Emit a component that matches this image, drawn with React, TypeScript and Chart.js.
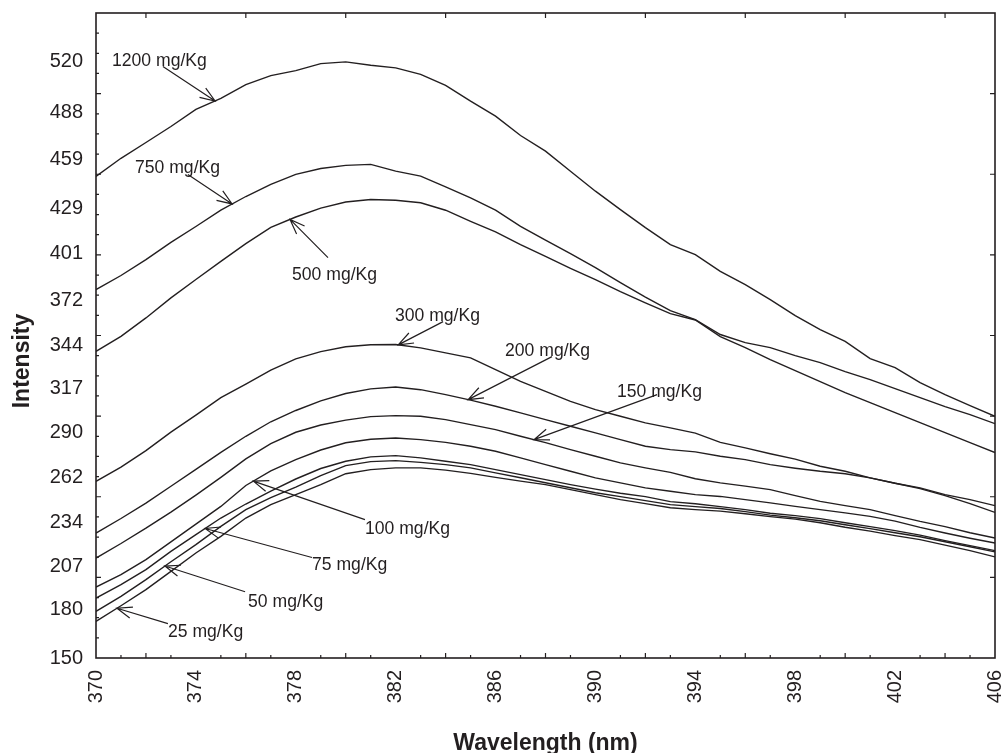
import React, { useEffect, useRef } from 'react';
import { Chart, registerables } from 'chart.js';

Chart.register(...registerables);

// ---------------- data ----------------
const wavelengths = [
  370, 371, 372, 373, 374, 375, 376, 377, 378, 379, 380, 381, 382, 383, 384, 385, 386, 387, 388,
  389, 390, 391, 392, 393, 394, 395, 396, 397, 398, 399, 400, 401, 402, 403, 404, 405, 406,
];
const xTickLabels = [370, 374, 378, 382, 386, 390, 394, 398, 402, 406];
const yTickLabels = [150, 180, 207, 234, 262, 290, 317, 344, 372, 401, 429, 459, 488, 520];

const s1200 = [448.7, 459.9, 469.7, 479.6, 490.2, 497.0, 505.6, 511.2, 514.3, 518.6, 519.7, 517.6, 516.0, 511.9, 505.1, 495.3, 486.0, 474.0, 464.3, 451.9, 439.5, 428.1, 416.9, 406.4, 400.2, 389.8, 381.6, 372.3, 362.3, 353.7, 346.4, 335.7, 330.1, 320.8, 313.3, 306.5, 299.9];
const s750 = [378.5, 387.2, 397.1, 407.7, 417.6, 427.8, 436.2, 443.7, 449.9, 453.6, 455.5, 456.1, 451.9, 448.8, 442.2, 435.4, 427.7, 417.7, 409.1, 400.8, 392.1, 382.8, 373.8, 365.4, 359.9, 350.6, 345.6, 342.5, 337.5, 333.2, 327.6, 322.6, 317.1, 311.5, 305.9, 300.9, 295.3];
const s500 = [340.2, 349.5, 360.9, 373.3, 384.7, 396.0, 407.0, 417.0, 423.5, 429.0, 432.8, 434.3, 433.9, 432.3, 427.7, 420.8, 414.3, 406.4, 399.0, 391.7, 384.7, 377.2, 370.2, 363.6, 359.6, 349.3, 342.5, 335.0, 328.2, 321.4, 314.6, 308.4, 302.2, 296.0, 289.8, 283.6, 277.4];
const s300 = [259.6, 268.4, 278.6, 290.1, 300.6, 311.5, 319.9, 328.5, 335.5, 340.0, 343.0, 344.3, 344.4, 342.3, 339.2, 336.1, 328.8, 321.6, 315.4, 309.2, 304.0, 299.9, 295.8, 292.7, 289.5, 283.7, 280.3, 276.7, 273.3, 268.9, 265.8, 261.7, 258.4, 255.5, 251.3, 248.2, 244.5];
const s200 = [227.5, 236.5, 246.0, 256.5, 267.0, 277.5, 287.5, 296.5, 303.5, 309.5, 314.0, 316.9, 318.1, 316.4, 313.3, 309.9, 306.1, 302.0, 297.8, 293.7, 289.6, 285.4, 281.3, 279.2, 277.8, 275.1, 273.0, 269.9, 267.7, 265.8, 264.3, 261.7, 258.4, 255.0, 250.7, 245.7, 240.3];
const s150 = [212.0, 221.0, 230.5, 240.5, 251.0, 262.0, 273.5, 283.0, 290.0, 294.5, 297.5, 299.7, 300.3, 299.9, 297.8, 294.7, 291.6, 287.5, 283.6, 279.2, 275.1, 271.0, 267.9, 265.1, 261.2, 258.6, 256.6, 254.4, 250.7, 247.1, 244.5, 242.0, 238.3, 234.7, 231.5, 227.7, 224.4];
const s100 = [194.0, 201.7, 211.0, 222.0, 233.0, 244.0, 257.0, 266.0, 273.0, 279.0, 283.5, 285.7, 286.4, 285.4, 283.7, 281.3, 278.2, 274.1, 269.9, 265.8, 261.7, 258.6, 255.5, 253.4, 251.3, 250.2, 248.2, 246.2, 244.0, 242.0, 240.0, 237.8, 234.9, 231.0, 227.5, 224.3, 221.3];
const s75 = [187.2, 195.5, 204.8, 216.1, 226.5, 236.8, 245.5, 253.5, 261.0, 267.5, 272.0, 274.7, 275.5, 274.1, 272.0, 269.9, 266.8, 263.7, 260.6, 257.5, 254.7, 252.2, 250.1, 247.0, 245.7, 243.9, 242.0, 239.8, 238.3, 236.4, 233.9, 231.5, 229.0, 226.2, 222.8, 219.7, 216.6];
const s50 = [178.9, 188.2, 198.6, 209.7, 220.3, 231.6, 242.0, 249.5, 256.0, 263.1, 269.3, 271.8, 272.4, 271.3, 269.9, 267.9, 264.8, 261.8, 258.7, 255.6, 252.5, 250.1, 247.6, 245.1, 243.9, 242.7, 240.8, 238.6, 237.0, 235.1, 232.6, 230.2, 227.7, 225.2, 222.1, 219.0, 215.8];
const s25 = [172.7, 182.4, 192.4, 203.7, 215.1, 225.4, 236.8, 245.1, 251.3, 257.5, 264.3, 266.8, 267.9, 267.9, 266.5, 264.5, 262.0, 259.7, 257.5, 254.4, 251.3, 248.2, 245.7, 243.2, 242.0, 241.1, 239.5, 237.7, 236.1, 233.9, 231.1, 228.7, 225.9, 223.4, 220.0, 216.6, 212.7];

const seriesNames = ['1200 mg/Kg', '750 mg/Kg', '500 mg/Kg', '300 mg/Kg', '200 mg/Kg', '150 mg/Kg', '100 mg/Kg', '75 mg/Kg', '50 mg/Kg', '25 mg/Kg'];
const seriesValues = [s1200, s750, s500, s300, s200, s150, s100, s75, s50, s25];

// label text anchor (left, baseline), arrow tail, arrow tip wavelength (tip sits on the curve)
const labelTextX = [370.64, 371.56, 377.85, 381.97, 386.38, 390.86, 380.77, 378.65, 376.09, 372.88];
const labelTextY = [517.0, 450.9, 384.2, 358.8, 337.5, 311.9, 226.9, 204.3, 181.6, 163.0];
const arrowTailX = [372.68, 373.68, 379.29, 383.9, 388.26, 392.47, 380.77, 378.65, 375.97, 372.88];
const arrowTailY = [516.8, 449.9, 398.3, 358.6, 336.9, 313.3, 235.8, 212.3, 191.1, 171.3];
const arrowTipX = [374.77, 375.45, 377.77, 382.1, 384.9, 387.54, 376.3, 374.37, 372.76, 370.84];

const INK = '#231f20';
const FONT = "'Liberation Sans', Arial, Helvetica, sans-serif";

function valueAt(values: number[], x: number): number {
  const i = Math.max(0, Math.min(wavelengths.length - 2, Math.floor(x - wavelengths[0])));
  const t = (x - wavelengths[i]) / (wavelengths[i + 1] - wavelengths[i]);
  return values[i] + (values[i + 1] - values[i]) * t;
}

const decorPlugin = {
  id: 'decor',
  afterDraw(chart: any) {
    const { ctx, chartArea: a, scales } = chart;
    const xs = scales.x;
    const ys = scales.y;
    ctx.save();
    ctx.strokeStyle = INK;
    ctx.fillStyle = INK;
    ctx.lineCap = 'butt';

    // frame
    ctx.lineWidth = 1.6;
    ctx.strokeRect(a.left, a.top, a.right - a.left, a.bottom - a.top);

    // tick marks (inward)
    ctx.lineWidth = 1.2;
    ctx.beginPath();
    for (let w = 371; w <= 405; w++) {
      const px = xs.getPixelForValue(w);
      if ((w - 372) % 4 === 0) {
        ctx.moveTo(px, a.bottom);
        ctx.lineTo(px, a.bottom - 5);
        ctx.moveTo(px, a.top);
        ctx.lineTo(px, a.top + 5);
      } else if (w % 2 === 1) {
        ctx.moveTo(px, a.bottom);
        ctx.lineTo(px, a.bottom - 3);
      }
    }
    for (let v = 162.5; v < 550; v += 12.5) {
      const py = ys.getPixelForValue(v);
      const major = Math.abs(v % 50) < 0.01;
      ctx.moveTo(a.left, py);
      ctx.lineTo(a.left + (major ? 5 : 3), py);
      if (major) {
        ctx.moveTo(a.right, py);
        ctx.lineTo(a.right - 5, py);
      }
    }
    ctx.stroke();

    // annotations
    ctx.font = `17.6px ${FONT}`;
    ctx.textAlign = 'left';
    ctx.textBaseline = 'alphabetic';
    ctx.lineWidth = 1.2;
    for (let k = 0; k < seriesNames.length; k++) {
      ctx.fillText(seriesNames[k], xs.getPixelForValue(labelTextX[k]), ys.getPixelForValue(labelTextY[k]));
      const tx = xs.getPixelForValue(arrowTailX[k]);
      const ty = ys.getPixelForValue(arrowTailY[k]);
      const hx = xs.getPixelForValue(arrowTipX[k]);
      const hy = ys.getPixelForValue(valueAt(seriesValues[k], arrowTipX[k]));
      const ang = Math.atan2(hy - ty, hx - tx);
      const L = 16;
      const spread = 0.36;
      ctx.beginPath();
      ctx.moveTo(tx, ty);
      ctx.lineTo(hx, hy);
      ctx.moveTo(hx - L * Math.cos(ang - spread), hy - L * Math.sin(ang - spread));
      ctx.lineTo(hx, hy);
      ctx.lineTo(hx - L * Math.cos(ang + spread), hy - L * Math.sin(ang + spread));
      ctx.stroke();
    }

    // axis titles
    ctx.font = `bold 23px ${FONT}`;
    ctx.textAlign = 'center';
    ctx.textBaseline = 'alphabetic';
    ctx.fillText('Wavelength (nm)', (a.left + a.right) / 2, 750);
    ctx.translate(29, 361);
    ctx.rotate(-Math.PI / 2);
    ctx.fillText('Intensity', 0, 0);
    ctx.restore();
  },
};

export default function App() {
  const ref = useRef<HTMLCanvasElement | null>(null);

  useEffect(() => {
    if (!ref.current) return;
    Chart.defaults.font.family = FONT;
    const chart = new Chart(ref.current, {
      type: 'line',
      data: {
        datasets: seriesValues.map((vals, k) => ({
          label: seriesNames[k],
          data: wavelengths.map((w, i) => ({ x: w, y: vals[i] })),
          borderColor: INK,
          borderWidth: 1.4,
          pointRadius: 0,
          fill: false,
          tension: 0,
        })),
      },
      options: {
        animation: false,
        responsive: false,
        maintainAspectRatio: false,
        layout: { padding: { left: 0, right: 11, top: 13, bottom: 0 } },
        plugins: { legend: { display: false }, tooltip: { enabled: false } },
        scales: {
          x: {
            type: 'linear',
            min: 370,
            max: 406,
            afterBuildTicks: (s: any) => {
              s.ticks = xTickLabels.map((v) => ({ value: v }));
            },
            afterFit: (s: any) => {
              s.height = 95;
              s.paddingLeft = 0;
              s.paddingRight = 0;
            },
            grid: { display: false, drawTicks: false },
            border: { display: false },
            ticks: {
              autoSkip: false,
              minRotation: 90,
              maxRotation: 90,
              padding: 12,
              color: INK,
              font: { size: 20, family: FONT },
            },
          },
          y: {
            type: 'linear',
            min: 150,
            max: 550,
            afterBuildTicks: (s: any) => {
              s.ticks = yTickLabels.map((v) => ({ value: v }));
            },
            afterFit: (s: any) => {
              s.width = 96;
              s.paddingTop = 0;
              s.paddingBottom = 0;
            },
            grid: { display: false, drawTicks: false },
            border: { display: false },
            ticks: {
              autoSkip: false,
              padding: 13,
              color: INK,
              font: { size: 20, family: FONT },
              callback: (v: any) => String(v),
            },
          },
        },
      },
      plugins: [decorPlugin],
    } as any);
    return () => chart.destroy();
  }, []);

  return (
    <div style={{ position: 'fixed', left: 0, top: 0, width: 1006, height: 753, background: '#fff' }}>
      <canvas ref={ref} width={1006} height={753} style={{ display: 'block', width: 1006, height: 753 }} />
    </div>
  );
}
